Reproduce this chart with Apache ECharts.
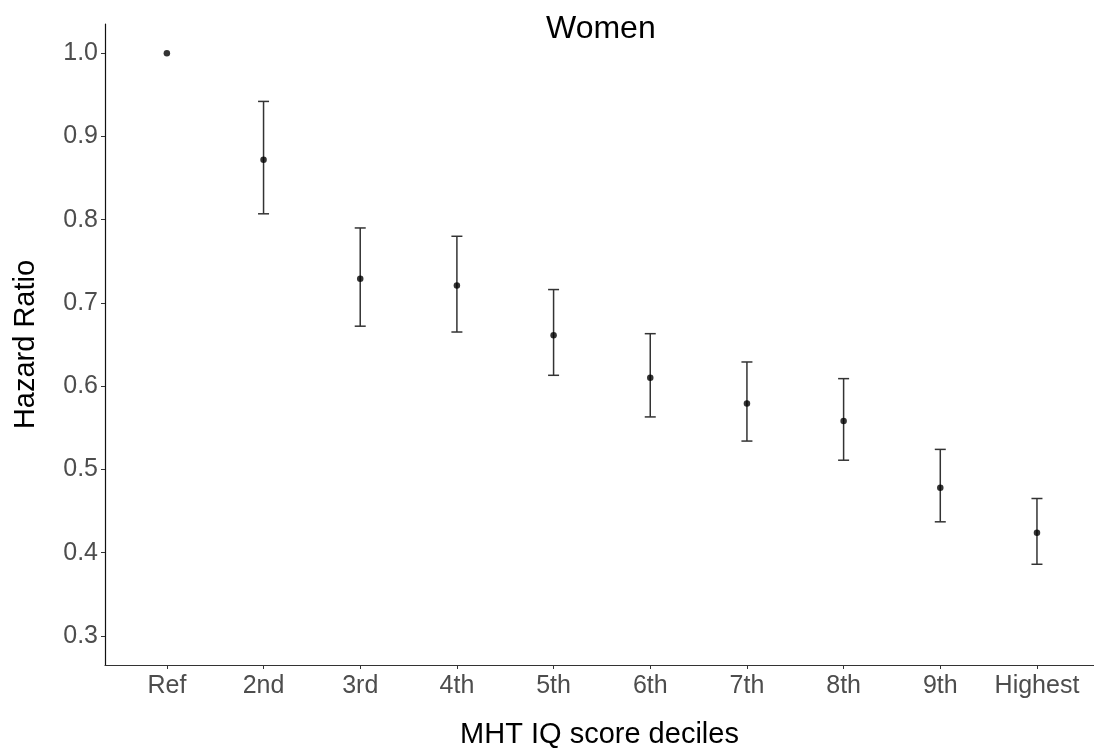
<!DOCTYPE html>
<html>
<head>
<meta charset="utf-8">
<script src="https://cdn.jsdelivr.net/npm/echarts@6/dist/echarts.min.js"></script>
<style>html,body{margin:0;padding:0;background:#fff;}#c{width:1094px;height:754px;}</style>
</head>
<body>
<div id="c"></div>
<script>
const categories = ['Ref','2nd','3rd','4th','5th','6th','7th','8th','9th','Highest'];
const hr    = [1.0, 0.872, 0.729, 0.721, 0.661, 0.610, 0.579, 0.558, 0.478, 0.424];
const lower = [null, 0.807, 0.672, 0.665, 0.613, 0.563, 0.534, 0.511, 0.437, 0.386];
const upper = [null, 0.942, 0.790, 0.780, 0.716, 0.663, 0.629, 0.609, 0.524, 0.465];
const yTicks = [0.3, 0.4, 0.5, 0.6, 0.7, 0.8, 0.9, 1.0];

const FONT = '"Liberation Sans", Arial, sans-serif';
const pointData = hr.map((v, i) => [i, v]);
const errData = [];
for (let i = 0; i < categories.length; i++) {
  if (lower[i] != null) errData.push([i, lower[i], upper[i]]);
}
const xTicks = categories.map((c, i) => i);

const chart = echarts.init(document.getElementById('c'), null, {renderer: 'canvas'});
chart.setOption({
  animation: false,
  backgroundColor: '#fff',
  title: {
    text: 'Women', left: 541, top: 8,
    textStyle: {fontFamily: FONT, fontSize: 32, fontWeight: 'normal', color: '#000'}
  },
  grid: {left: 105, right: 0, top: 24, bottom: 82, containLabel: false},
  xAxis: {
    type: 'value', min: -0.64, max: 9.59,
    name: 'MHT IQ score deciles', nameLocation: 'middle', nameGap: 55,
    nameTextStyle: {fontFamily: FONT, fontSize: 29, color: '#000'},
    axisLine: {show: true, onZero: false, lineStyle: {color: '#333', width: 1.2}},
    axisTick: {show: true, length: 4, customValues: xTicks, lineStyle: {color: '#333'}},
    axisLabel: {customValues: xTicks, fontFamily: FONT, fontSize: 25, color: '#4d4d4d', margin: 9,
      formatter: v => categories[Math.round(v)]},
    splitLine: {show: false}
  },
  yAxis: {
    type: 'value', min: 0.265, max: 1.035,
    name: 'Hazard Ratio', nameLocation: 'middle', nameGap: 65, nameRotate: 90,
    nameTextStyle: {fontFamily: FONT, fontSize: 29, color: '#000'},
    axisLine: {show: true, onZero: false, lineStyle: {color: '#111', width: 1.2}},
    axisTick: {show: true, length: 4, customValues: yTicks, lineStyle: {color: '#333'}},
    axisLabel: {customValues: yTicks, fontFamily: FONT, fontSize: 25, color: '#4d4d4d', margin: 7,
      formatter: v => v.toFixed(1)},
    splitLine: {show: false}
  },
  series: [
    {
      type: 'custom',
      data: errData,
      renderItem: function (params, api) {
        const x = api.value(0);
        const lo = api.coord([x, api.value(1)]);
        const hi = api.coord([x, api.value(2)]);
        const hw = 5.5;
        const style = {stroke: '#333', lineWidth: 1.5};
        return {
          type: 'group',
          children: [
            {type: 'line', shape: {x1: lo[0], y1: lo[1], x2: hi[0], y2: hi[1]}, style: style},
            {type: 'line', shape: {x1: lo[0] - hw, y1: lo[1], x2: lo[0] + hw, y2: lo[1]}, style: style},
            {type: 'line', shape: {x1: hi[0] - hw, y1: hi[1], x2: hi[0] + hw, y2: hi[1]}, style: style}
          ]
        };
      },
      z: 2
    },
    {
      type: 'scatter',
      data: pointData,
      symbol: 'circle',
      symbolSize: 6.5,
      itemStyle: {color: '#000'},
      z: 3
    }
  ]
});
</script>
</body>
</html>
